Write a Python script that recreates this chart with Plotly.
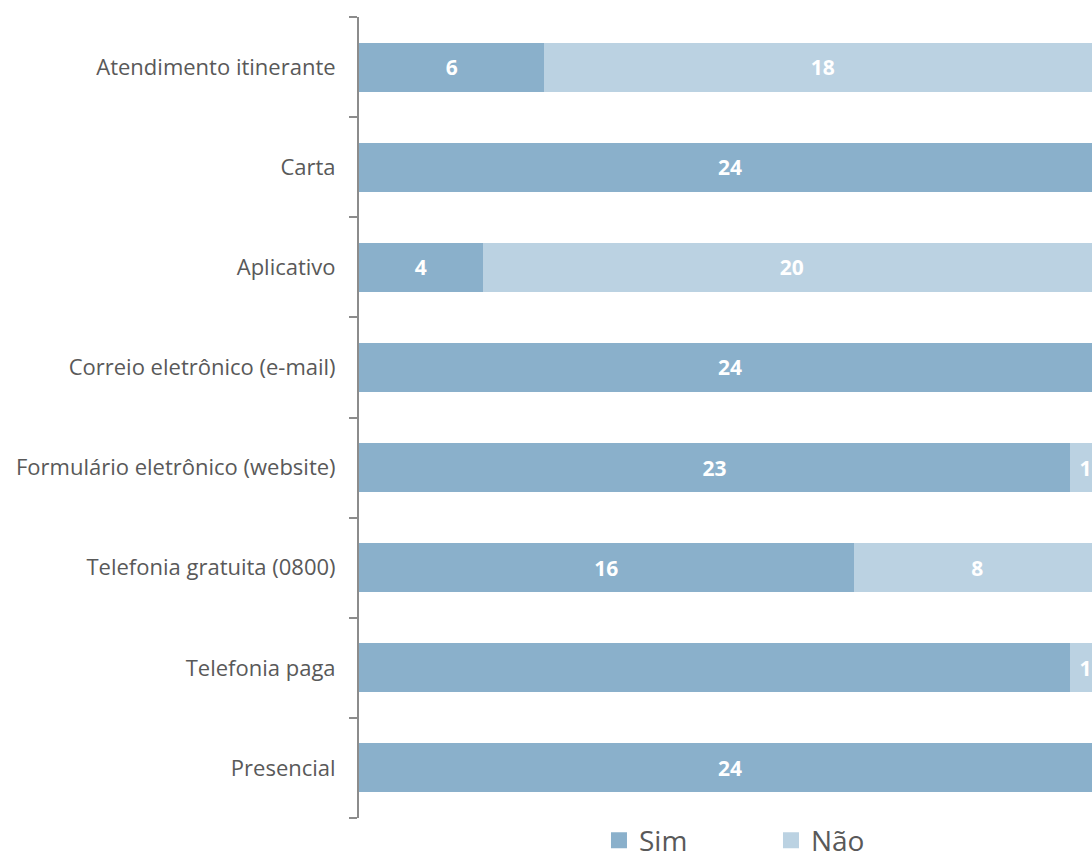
import plotly.graph_objects as go

# Categories bottom-to-top (Plotly category axis starts at bottom)
categories = [
    "Presencial",
    "Telefonia paga",
    "Telefonia gratuita (0800)",
    "Formulário eletrônico (website)",
    "Correio eletrônico (e-mail)",
    "Aplicativo",
    "Carta",
    "Atendimento itinerante",
]
sim_values = [24, 23, 16, 23, 24, 4, 24, 6]
nao_values = [0, 1, 8, 1, 0, 20, 0, 18]
# labels as shown in the picture (Telefonia paga "Sim" label missing in source)
sim_labels = ["24", "", "16", "23", "24", "4", "24", "6"]
nao_labels = ["", "1", "8", "1", "", "20", "", "18"]
series_names = ["Sim", "Não"]

SIM_COLOR = "#8AB0CB"
NAO_COLOR = "#BBD2E2"
FONT = "Open Sans"
label_font = dict(family=FONT, size=21, color="white", weight="bold")

fig = go.Figure()
for name, vals, labels, col in [
    (series_names[0], sim_values, sim_labels, SIM_COLOR),
    (series_names[1], nao_values, nao_labels, NAO_COLOR),
]:
    fig.add_trace(go.Bar(
        y=categories, x=vals, orientation="h", name=name, showlegend=False,
        marker=dict(color=col, line=dict(width=0)),
        text=labels, textposition="inside", insidetextanchor="middle",
        textangle=0, texttemplate="%{text}",
        insidetextfont=label_font, constraintext="none",
        hoverinfo="skip", legendgroup=name,
    ))

# legend entries with larger square swatches
for name, col in [(series_names[0], SIM_COLOR), (series_names[1], NAO_COLOR)]:
    fig.add_trace(go.Scatter(
        x=[None], y=[None], mode="markers", name=name, legendgroup=name,
        marker=dict(symbol="square", size=17, color=col, line=dict(width=0)),
        hoverinfo="skip",
    ))

fig.update_layout(
    width=1092, height=859,
    barmode="stack", bargap=0.51,
    paper_bgcolor="white", plot_bgcolor="white",
    margin=dict(l=359, r=0, t=17, b=41, autoexpand=False),
    font=dict(family=FONT, color="#595959"),
    legend=dict(
        orientation="h", x=0.3274, xanchor="left", y=-0.028, yanchor="middle",
        font=dict(family=FONT, size=28, color="#595959"),
        entrywidth=127, entrywidthmode="pixels", traceorder="normal",
    ),
    xaxis=dict(range=[0, 23.71], showgrid=False, zeroline=False,
               showline=False, showticklabels=False, ticks=""),
    yaxis=dict(
        type="category", categoryorder="array", categoryarray=categories,
        showgrid=False, zeroline=False,
        showline=True, linecolor="#8C8C8C", linewidth=2,
        ticks="outside", tickson="boundaries", ticklen=8, tickwidth=2,
        tickcolor="#8C8C8C",
        tickfont=dict(family=FONT, size=22, color="#595959"),
        ticklabelstandoff=17,
    ),
)

fig.write_html("out.html", config={"displayModeBar": False},
               post_script="document.body.style.margin='0px';")
